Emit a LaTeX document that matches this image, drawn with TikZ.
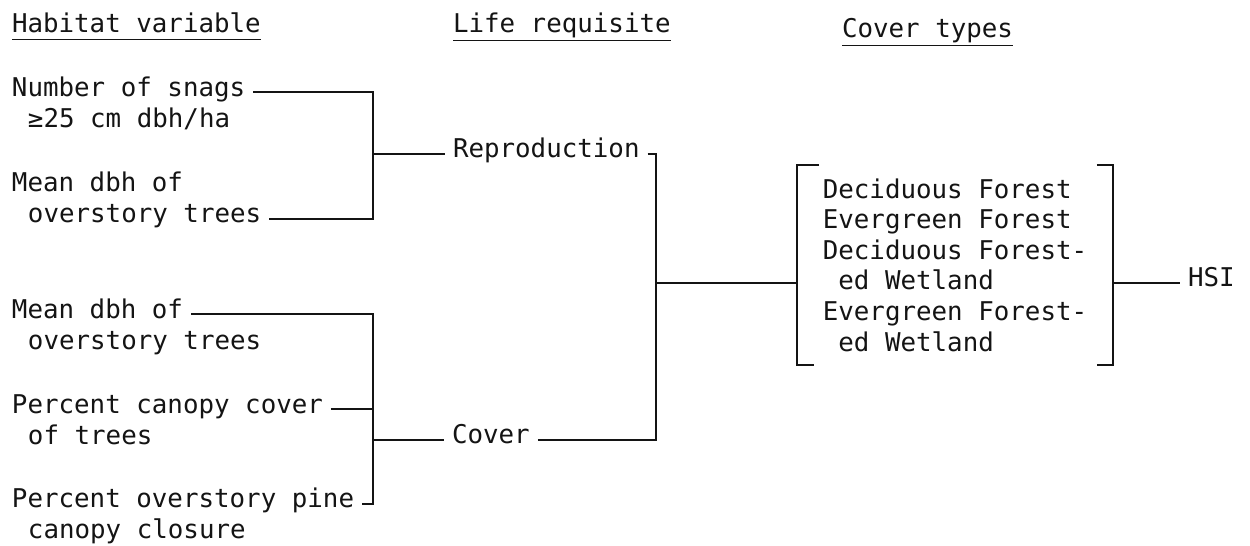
\documentclass[tikz,border=0pt]{standalone}
\usepackage{xcolor}
\usepackage{fontspec}
\usepackage{tikz}
\usetikzlibrary{positioning, calc}
\newfontfamily\typewr{DejaVu Sans Mono}
\definecolor{inkblack}{RGB}{20,20,20}
\tikzset{
  txt/.style={anchor=base west, inner xsep=0.16cm, inner ysep=0pt, outer sep=0pt,
    font=\typewr\fontsize{14.7}{17.4}\selectfont, text=inkblack},
  hdr/.style={anchor=base west, inner sep=0pt, outer sep=0pt,
    font=\typewr\fontsize{14.7}{17.4}\selectfont, text=inkblack},
  wire/.style={line width=1.05pt, color=inkblack},
  uline/.style={line width=0.9pt, color=inkblack}
}

\begin{document}
\begin{tikzpicture}[x=0.02cm, y=-0.02cm,
  req/.style={txt, anchor=mid west},
  coverbox/.style={rectangle, inner sep=0pt, align=left, minimum width=6.3cm, minimum height=4cm,
    font=\typewr\fontsize{14.7}{17.4}\selectfont, text=inkblack}]

  \useasboundingbox (0,0) rectangle (1250,545);

  % Column headers
  \node[hdr] (hHab) at (12,32) {Habitat variable};
  \node[hdr] (hLife) at (453,32) {Life requisite};
  \node[hdr] (hCov) at (842,37) {Cover types};
  \draw[uline] ([yshift=-0.15cm]hHab.base west) -- ([yshift=-0.15cm]hHab.base east);
  \draw[uline] ([yshift=-0.17cm]hLife.base west) -- ([yshift=-0.17cm]hLife.base east);
  \draw[uline] ([yshift=-0.17cm]hCov.base west) -- ([yshift=-0.17cm]hCov.base east);

  % Habitat variables, reproduction group
  \node[txt] (snag1) at (4,96) {Number of snags};
  \node[txt] (snag2) at (20,127.5) {≥25 cm dbh/ha};
  \node[txt] (dbhA1) at (4,191) {Mean dbh of};
  \node[txt] (dbhA2) at (20,222.5) {overstory trees};

  % Habitat variables, cover group
  \node[txt] (dbhB1) at (4,318) {Mean dbh of};
  \node[txt] (dbhB2) at (20,349.5) {overstory trees};
  \node[txt] (canopy1) at (4,413) {Percent canopy cover};
  \node[txt] (canopy2) at (20,444.5) {of trees};
  \node[txt] (pine1) at (4,507.5) {Percent overstory pine};
  \node[txt] (pine2) at (20,538.5) {canopy closure};

  % Life requisites
  \node[req] (rep) at (445,154) {Reproduction};
  \node[req] (cov) at (444,440) {Cover};

  % Junctions
  \coordinate (jRep) at (373,154);
  \coordinate (jCov) at (373,440);
  \coordinate (jLife) at (656,283);

  % Cover types and HSI
  \node[coverbox] (types) at (955,265) {Deciduous Forest\\Evergreen Forest\\Deciduous Forest-\\\hphantom{x}ed Wetland\\Evergreen Forest-\\\hphantom{x}ed Wetland};
  \node[req] (hsi) at (1180,283) {HSI};

  % Connections
  \draw[wire] (snag1.mid east) -| (jRep);
  \draw[wire] (dbhA2.mid east) -| (jRep);
  \draw[wire] (jRep) -- (rep.mid west);
  \draw[wire] (dbhB1.mid east) -| (jCov);
  \draw[wire] (pine1.mid east) -| (jCov);
  \draw[wire] (canopy1.mid east) -- (canopy1.mid east -| jCov);
  \draw[wire] (jCov) -- (cov.mid west);
  \draw[wire] (rep.mid east) -| (jLife);
  \draw[wire] (cov.mid east) -| (jLife);
  \draw[wire] (jLife) -- (jLife -| types.west);
  \draw[wire] (hsi.mid west -| types.east) -- (hsi.mid west);

  % Brackets
  \draw[wire] ([xshift=0.44cm]types.north west) -- (types.north west) -- (types.south west) -- ([xshift=0.34cm]types.south west);
  \draw[wire] ([xshift=-0.32cm]types.north east) -- (types.north east) -- (types.south east) -- ([xshift=-0.32cm]types.south east);

\end{tikzpicture}
\end{document}
